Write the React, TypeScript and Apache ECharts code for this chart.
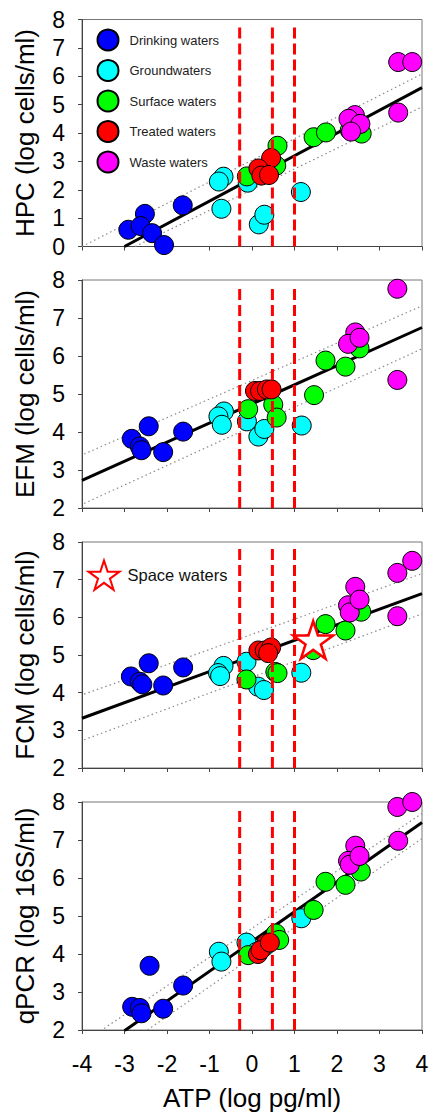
import React, { useEffect, useRef } from 'react';
import * as echarts from 'echarts';

const FONT = '"Liberation Sans", Arial, sans-serif';

const GROUP_NAMES = ['Drinking waters', 'Groundwaters', 'Surface waters', 'Treated waters', 'Waste waters'];
const GROUP_COLORS = ['#0000FF', '#00FFFF', '#00FF00', '#FF0000', '#FF00FF'];
const PANEL_NAMES = ['HPC (log cells/ml)', 'EFM (log cells/ml)', 'FCM (log cells/ml)', 'qPCR (log 16S/ml)'];
const Y_MINS = [0, 2, 2, 2];
const Y_MAX = 8;
const X_NAME = 'ATP (log pg/ml)';
const THRESHOLDS = [-0.29, 0.48, 1.0];
const THRESHOLD_TOP = 7.88;

// HPC panel
const hpcDrinking = [[-2.91, 0.59], [-2.52, 1.15], [-2.62, 0.72], [-2.35, 0.47], [-2.07, 0.05], [-1.63, 1.45]];
const hpcGround = [[-0.67, 2.46], [-0.78, 2.29], [-0.72, 1.33], [-0.1, 2.25], [0.16, 0.78], [0.29, 1.12], [1.15, 1.92]];
const hpcSurface = [[-0.12, 2.47], [0.6, 3.55], [0.57, 2.85], [1.45, 3.85], [1.74, 4.02], [2.58, 3.98], [2.3, 4.1]];
const hpcTreated = [[0.45, 3.12], [0.15, 2.75], [0.22, 2.5], [0.4, 2.52]];
const hpcWaste = [[3.44, 6.5], [3.77, 6.5], [3.44, 4.72], [2.42, 4.63], [2.27, 4.5], [2.55, 4.32], [2.33, 4.05]];
const hpcFit = [[-3, 0], [4, 5.6]];
const hpcUpper = [[-4, 0], [4, 6.08]];
const hpcLower = [[-2.75, 0], [4, 4.92]];

// EFM panel
const efmDrinking = [[-2.83, 3.82], [-2.43, 4.15], [-2.64, 3.62], [-2.6, 3.52], [-2.09, 3.47], [-1.62, 4.01]];
const efmGround = [[-0.66, 4.54], [-0.79, 4.41], [-0.71, 4.19], [-0.12, 4.28], [0.15, 3.88], [0.29, 4.08], [1.17, 4.17]];
const efmSurface = [[-0.09, 4.6], [0.5, 4.72], [0.58, 4.38], [1.46, 4.97], [1.73, 5.88], [2.2, 5.72], [2.53, 6.2]];
const efmTreated = [[0.07, 5.08], [0.19, 5.08], [0.35, 5.12], [0.46, 5.12]];
const efmWaste = [[3.42, 7.77], [3.42, 5.37], [2.43, 6.62], [2.26, 6.32], [2.53, 6.48]];
const efmFit = [[-4, 2.73], [4, 6.75]];
const efmUpper = [[-3.95, 3.42], [4, 7.32]];
const efmLower = [[-3.95, 2.12], [4, 6.19]];

// FCM panel
const fcmDrinking = [[-2.85, 4.43], [-2.43, 4.78], [-2.64, 4.29], [-2.58, 4.22], [-2.09, 4.19], [-1.62, 4.67]];
const fcmGround = [[-0.67, 4.71], [-0.8, 4.52], [-0.75, 4.44], [-0.13, 4.82], [0.14, 4.16], [0.28, 4.07], [1.16, 4.53]];
const fcmSurface = [[-0.13, 4.35], [0.55, 4.55], [0.6, 4.52], [1.44, 5.13], [1.73, 5.82], [2.2, 5.65], [2.57, 6.15]];
const fcmTreated = [[0.15, 5.12], [0.3, 5.12], [0.45, 5.2], [0.38, 5.05]];
const fcmWaste = [[3.77, 7.5], [3.42, 7.18], [3.42, 6.03], [2.43, 6.81], [2.26, 6.32], [2.3, 6.13], [2.53, 6.47]];
const fcmFit = [[-4, 3.32], [4, 6.63]];
const fcmUpper = [[-3.95, 3.96], [4, 7.16]];
const fcmLower = [[-3.95, 2.75], [4, 6.09]];
const spaceWaters = [[1.44, 5.4]];

// qPCR panel
const qpcrDrinking = [[-2.82, 2.61], [-2.41, 3.69], [-2.64, 2.58], [-2.6, 2.44], [-2.09, 2.56], [-1.62, 3.17]];
const qpcrGround = [[-0.78, 4.06], [-0.72, 3.8], [-0.13, 4.3], [1.16, 4.94], [0.1, 4.05], [0.3, 4.2]];
const qpcrSurface = [[-0.09, 3.97], [0.56, 4.54], [0.64, 4.37], [1.45, 5.16], [1.73, 5.9], [2.2, 5.82], [2.56, 6.17]];
const qpcrTreated = [[0.14, 4.0], [0.34, 4.28], [0.2, 4.1], [0.42, 4.3]];
const qpcrWaste = [[3.44, 6.98], [3.42, 7.87], [3.77, 8.0], [2.43, 6.85], [2.26, 6.45], [2.3, 6.35], [2.53, 6.58]];
const qpcrFit = [[-3, 1.98], [4, 7.46]];
const qpcrUpper = [[-3.48, 2.04], [4, 7.7]];
const qpcrLower = [[-2.46, 2.0], [4, 7.04]];

const PANEL_GROUPS = [
  [hpcDrinking, hpcGround, hpcSurface, hpcTreated, hpcWaste],
  [efmDrinking, efmGround, efmSurface, efmTreated, efmWaste],
  [fcmDrinking, fcmGround, fcmSurface, fcmTreated, fcmWaste],
  [qpcrDrinking, qpcrGround, qpcrSurface, qpcrTreated, qpcrWaste],
];
const PANEL_FITS = [hpcFit, efmFit, fcmFit, qpcrFit];
const PANEL_BANDS = [[hpcUpper, hpcLower], [efmUpper, efmLower], [fcmUpper, fcmLower], [qpcrUpper, qpcrLower]];

const GRID_TOPS = [19.5, 280, 542, 802];
const GRID_HEIGHTS = [227, 228, 226, 228];

const STAR = 'path://M50,2 L61.2,36.3 L97.6,36.3 L68.2,57.6 L79.4,91.9 L50,70.6 L20.6,91.9 L31.8,57.6 L2.4,36.3 L38.8,36.3 Z';

export default function App() {
  const ref = useRef<HTMLDivElement>(null);
  useEffect(() => {
    document.body.style.margin = '0';
    const chart = echarts.init(ref.current!, null, { renderer: 'svg' });
    const axisColor = '#444';
    const grid = GRID_TOPS.map((t, i) => ({
      left: 82, width: 340, top: t, height: GRID_HEIGHTS[i],
      show: true, borderColor: '#777', borderWidth: 1, backgroundColor: 'transparent',
    }));
    const xAxis = GRID_TOPS.map((_, i) => ({
      type: 'value', gridIndex: i, min: -4, max: 4, interval: 1,
      axisLine: { show: true, onZero: false, lineStyle: { color: axisColor, width: 1 } },
      axisTick: { show: true, length: 4, lineStyle: { color: axisColor } },
      axisLabel: { show: i === 3, fontSize: 23, color: '#000', margin: 22, fontFamily: FONT },
      splitLine: { show: false },
      name: i === 3 ? X_NAME : '',
      nameLocation: 'middle', nameGap: 55,
      nameTextStyle: { fontSize: 26, color: '#000', fontFamily: FONT },
    }));
    const yAxis = GRID_TOPS.map((_, i) => ({
      type: 'value', gridIndex: i, min: Y_MINS[i], max: Y_MAX, interval: 1,
      axisLine: { show: true, onZero: false, lineStyle: { color: axisColor, width: 1 } },
      axisTick: { show: true, length: 4, lineStyle: { color: axisColor } },
      axisLabel: { fontSize: 23, color: '#000', margin: 17, fontFamily: FONT },
      splitLine: { show: false },
      name: PANEL_NAMES[i], nameLocation: 'middle', nameGap: 44, nameRotate: 90,
      nameTextStyle: { fontSize: 26, color: '#000', fontFamily: FONT },
    }));
    const series: any[] = [];
    PANEL_GROUPS.forEach((groups, i) => {
      const ax = { xAxisIndex: i, yAxisIndex: i };
      PANEL_BANDS[i].forEach((band) => {
        series.push({
          type: 'line', ...ax, data: band, symbol: 'none', silent: true, z: 1,
          lineStyle: { color: '#8a8a8a', width: 1.2, type: [1.5, 3] },
        });
      });
      series.push({
        type: 'line', ...ax, data: PANEL_FITS[i], symbol: 'none', silent: true, z: 1,
        lineStyle: { color: '#000', width: 3 },
      });
      groups.forEach((pts, g) => {
        series.push({
          type: 'scatter', name: GROUP_NAMES[g], ...ax, data: pts, symbol: 'circle', symbolSize: 19, z: 2,
          itemStyle: { color: GROUP_COLORS[g], borderColor: '#000', borderWidth: 1, opacity: 1 },
        });
      });
      THRESHOLDS.forEach((t) => {
        series.push({
          type: 'line', ...ax, data: [[t, Y_MINS[i]], [t, THRESHOLD_TOP]], symbol: 'none', silent: true, z: 3,
          lineStyle: { color: '#FF0000', width: 3, type: [11, 5] },
        });
      });
      if (i === 2) {
        series.push({
          type: 'scatter', name: 'Space waters', ...ax, data: spaceWaters, symbol: STAR, symbolKeepAspect: true,
          symbolSize: 40, z: 4,
          itemStyle: { color: '#FFFFFF', borderColor: '#FF0000', borderWidth: 2.5, opacity: 1 },
        });
      }
    });
    chart.setOption({
      animation: false,
      grid, xAxis, yAxis, series,
      legend: [
        {
          data: GROUP_NAMES, orient: 'vertical', left: 96.5, top: 28.5, itemWidth: 21, itemHeight: 21,
          itemGap: 7.5, icon: 'circle', selectedMode: false, padding: 0,
          textStyle: { fontSize: 13, color: '#222', fontFamily: FONT, padding: [0, 0, 0, 6] },
        },
        {
          data: ['Space waters'], orient: 'vertical', left: 87.5, top: 559.5, itemWidth: 31, itemHeight: 31,
          icon: STAR, selectedMode: false, padding: 0,
          textStyle: { fontSize: 16.5, color: '#111', fontFamily: FONT, padding: [0, 0, 0, 3] },
        },
      ],
    });
    return () => chart.dispose();
  }, []);
  return <div ref={ref} style={{ position: 'absolute', left: 0, top: 0, width: 436, height: 1117 }} />;
}
